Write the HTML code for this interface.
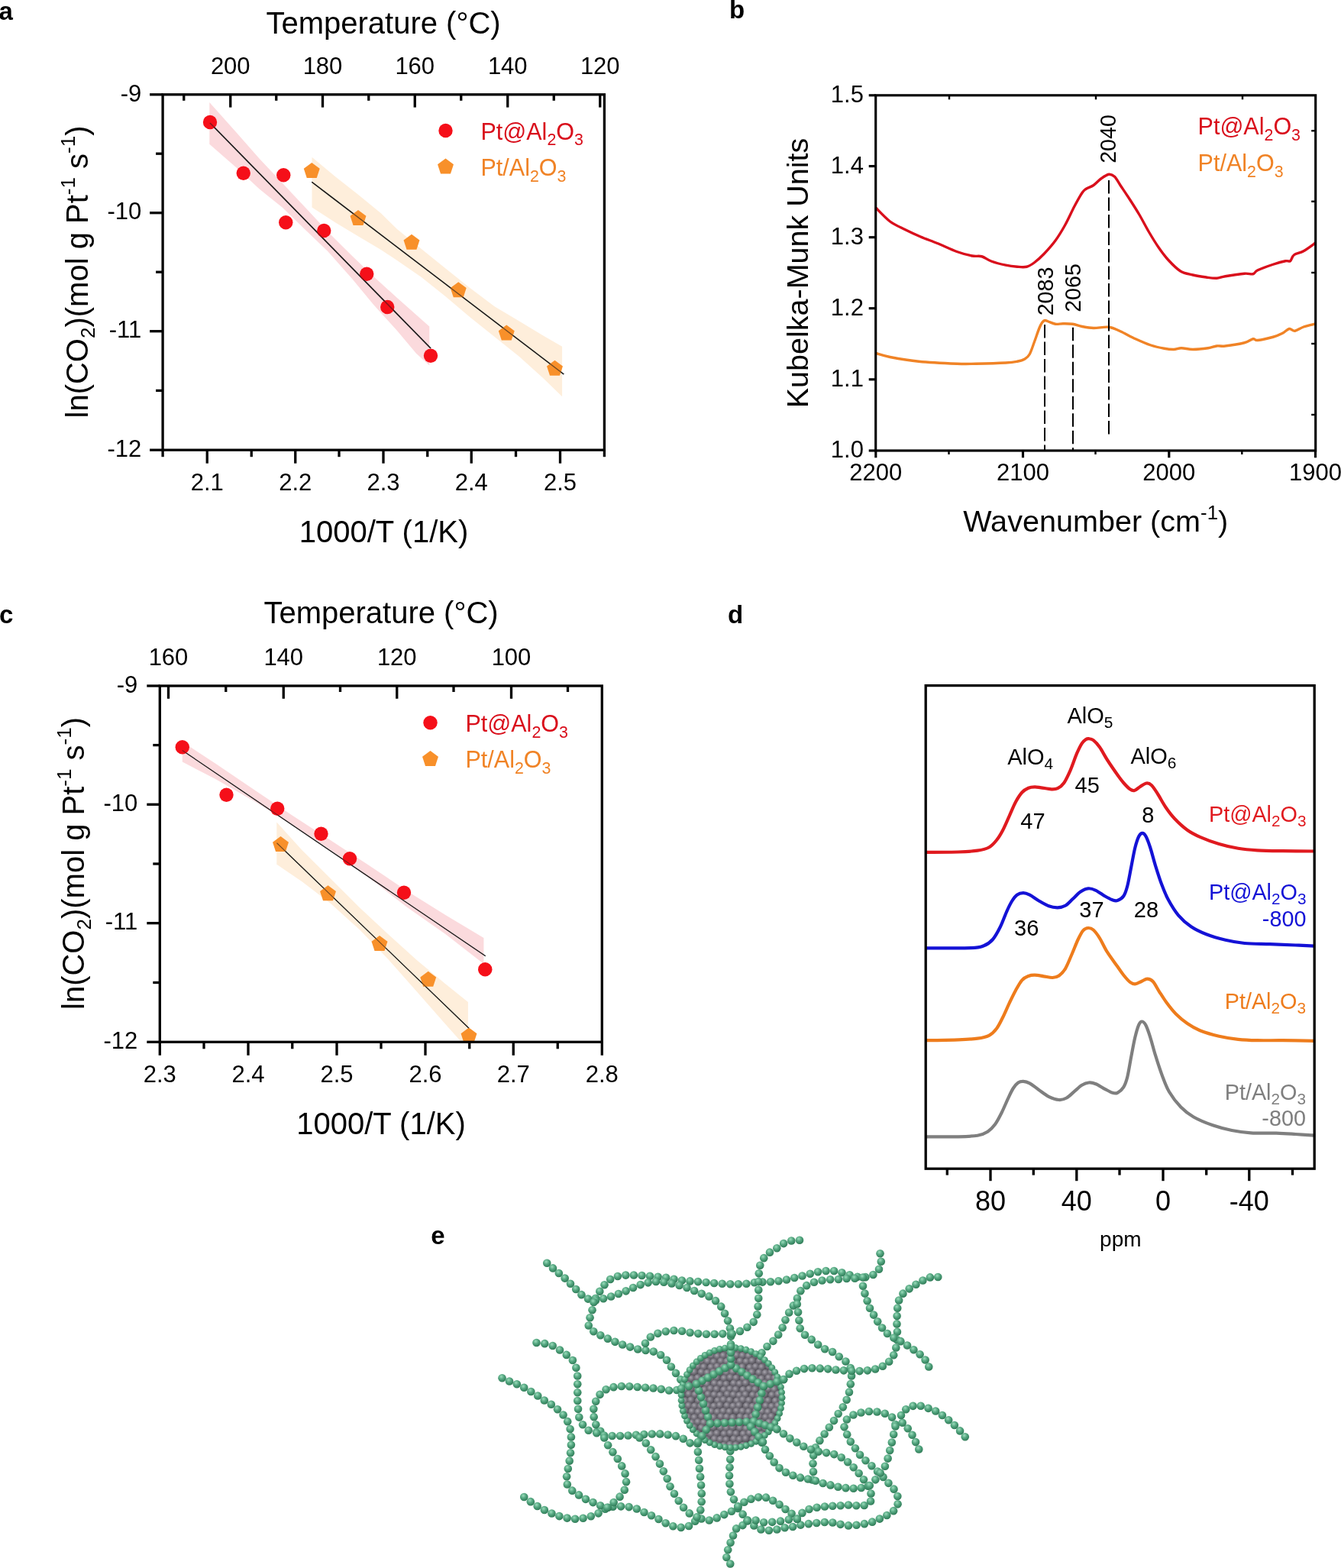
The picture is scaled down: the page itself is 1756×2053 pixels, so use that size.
<!DOCTYPE html>
<html lang="en">
<head>
<meta charset="utf-8">
<title>Figure</title>
<style>
html,body{margin:0;padding:0;background:#fff;}
body{width:1756px;height:2053px;overflow:hidden;}
svg{display:block;font-family:"Liberation Sans", sans-serif;}
text{white-space:pre;}
</style>
</head>
<body>
<svg xmlns="http://www.w3.org/2000/svg" width="1756" height="2053" viewBox="0 0 1756 2053">
<rect width="1756" height="2053" fill="#fff"/>
<polygon points="408.5,205.7 439.4,231.6 469.3,255 499.2,279.5 520,300 551.9,326 583.8,351.8 615.7,377.3 647.6,401.2 679.5,420.3 711.4,439.5 736.1,453.8 736.1,519.2 711.4,495.3 679.5,466.6 647.6,441.1 615.7,415.5 583.8,388.4 551.9,362.9 520,341 499.2,327.3 469.3,309.4 439.4,291.4 408.5,271.5" fill="#feeedb"/>
<polygon points="274.3,134 309.8,173.8 339.7,207.7 369.6,239.6 401.5,273.5 429.4,303.4 461.3,335.3 489.2,362 520,390 562.3,427.5 562.3,478.5 545,462.8 520,433 489.2,399 461.3,365.2 429.4,329.3 401.5,302.4 369.6,271.5 339.7,247.6 309.8,219.7 274.3,188.8" fill="#fbdadd"/>
<line x1="275" y1="161" x2="564" y2="456" stroke="#1a1a1a" stroke-width="1.5" />
<line x1="408.25" y1="238.25" x2="738.25" y2="490" stroke="#1a1a1a" stroke-width="1.5" />
<polygon points="408.25,213.05 418.71,220.65 414.72,232.95 401.78,232.95 397.79,220.65" fill="#f8902a"/>
<polygon points="469,275.05 479.46,282.65 475.47,294.95 462.53,294.95 458.54,282.65" fill="#f8902a"/>
<polygon points="539,306.8 549.46,314.4 545.47,326.7 532.53,326.7 528.54,314.4" fill="#f8902a"/>
<polygon points="600.25,369.3 610.71,376.9 606.72,389.2 593.78,389.2 589.79,376.9" fill="#f8902a"/>
<polygon points="663.25,425.55 673.71,433.15 669.72,445.45 656.78,445.45 652.79,433.15" fill="#f8902a"/>
<polygon points="726.5,471.8 736.96,479.4 732.97,491.7 720.03,491.7 716.04,479.4" fill="#f8902a"/>
<circle cx="275" cy="160" r="9.2" fill="#f50f19"/>
<circle cx="318.75" cy="226.75" r="9.2" fill="#f50f19"/>
<circle cx="371.25" cy="229.25" r="9.2" fill="#f50f19"/>
<circle cx="374.25" cy="291.25" r="9.2" fill="#f50f19"/>
<circle cx="424.25" cy="302" r="9.2" fill="#f50f19"/>
<circle cx="480.25" cy="358.75" r="9.2" fill="#f50f19"/>
<circle cx="507.25" cy="402" r="9.2" fill="#f50f19"/>
<circle cx="564" cy="465.75" r="9.2" fill="#f50f19"/>
<line x1="275" y1="161" x2="564" y2="456" stroke="#1a1a1a" stroke-width="1.5" stroke-opacity="0.5"/>
<line x1="408.25" y1="238.25" x2="738.25" y2="490" stroke="#1a1a1a" stroke-width="1.5" stroke-opacity="0.6"/>
<rect x="213.1" y="123.8" width="578.3" height="465.4" fill="none" stroke="#000" stroke-width="3.3"/>
<line x1="196.1" y1="123.8" x2="213.1" y2="123.8" stroke="#000" stroke-width="3.3" />
<text x="185.3" y="132.5" font-size="31" text-anchor="end" fill="#000" font-weight="normal" >-9</text>
<line x1="196.1" y1="278.7" x2="213.1" y2="278.7" stroke="#000" stroke-width="3.3" />
<text x="185.3" y="287.4" font-size="31" text-anchor="end" fill="#000" font-weight="normal" >-10</text>
<line x1="196.1" y1="433.7" x2="213.1" y2="433.7" stroke="#000" stroke-width="3.3" />
<text x="185.3" y="442.4" font-size="31" text-anchor="end" fill="#000" font-weight="normal" >-11</text>
<line x1="196.1" y1="589.2" x2="213.1" y2="589.2" stroke="#000" stroke-width="3.3" />
<text x="185.3" y="597.9" font-size="31" text-anchor="end" fill="#000" font-weight="normal" >-12</text>
<line x1="204.1" y1="201.2" x2="213.1" y2="201.2" stroke="#000" stroke-width="3.3" />
<line x1="204.1" y1="356.2" x2="213.1" y2="356.2" stroke="#000" stroke-width="3.3" />
<line x1="204.1" y1="511.4" x2="213.1" y2="511.4" stroke="#000" stroke-width="3.3" />
<line x1="301.75" y1="123.8" x2="301.75" y2="140.6" stroke="#000" stroke-width="3.3" />
<text x="301.75" y="97.2" font-size="31" text-anchor="middle" fill="#000" font-weight="normal" >200</text>
<line x1="422.5" y1="123.8" x2="422.5" y2="140.6" stroke="#000" stroke-width="3.3" />
<text x="422.5" y="97.2" font-size="31" text-anchor="middle" fill="#000" font-weight="normal" >180</text>
<line x1="543.25" y1="123.8" x2="543.25" y2="140.6" stroke="#000" stroke-width="3.3" />
<text x="543.25" y="97.2" font-size="31" text-anchor="middle" fill="#000" font-weight="normal" >160</text>
<line x1="664.75" y1="123.8" x2="664.75" y2="140.6" stroke="#000" stroke-width="3.3" />
<text x="664.75" y="97.2" font-size="31" text-anchor="middle" fill="#000" font-weight="normal" >140</text>
<line x1="785.75" y1="123.8" x2="785.75" y2="140.6" stroke="#000" stroke-width="3.3" />
<text x="785.75" y="97.2" font-size="31" text-anchor="middle" fill="#000" font-weight="normal" >120</text>
<line x1="240.75" y1="123.8" x2="240.75" y2="131.8" stroke="#000" stroke-width="3.3" />
<line x1="361.75" y1="123.8" x2="361.75" y2="131.8" stroke="#000" stroke-width="3.3" />
<line x1="482.75" y1="123.8" x2="482.75" y2="131.8" stroke="#000" stroke-width="3.3" />
<line x1="603.75" y1="123.8" x2="603.75" y2="131.8" stroke="#000" stroke-width="3.3" />
<line x1="725.25" y1="123.8" x2="725.25" y2="131.8" stroke="#000" stroke-width="3.3" />
<line x1="271.25" y1="589.2" x2="271.25" y2="606.7" stroke="#000" stroke-width="3.3" />
<text x="271.25" y="642" font-size="31" text-anchor="middle" fill="#000" font-weight="normal" >2.1</text>
<line x1="386.75" y1="589.2" x2="386.75" y2="606.7" stroke="#000" stroke-width="3.3" />
<text x="386.75" y="642" font-size="31" text-anchor="middle" fill="#000" font-weight="normal" >2.2</text>
<line x1="502" y1="589.2" x2="502" y2="606.7" stroke="#000" stroke-width="3.3" />
<text x="502" y="642" font-size="31" text-anchor="middle" fill="#000" font-weight="normal" >2.3</text>
<line x1="617.25" y1="589.2" x2="617.25" y2="606.7" stroke="#000" stroke-width="3.3" />
<text x="617.25" y="642" font-size="31" text-anchor="middle" fill="#000" font-weight="normal" >2.4</text>
<line x1="733.5" y1="589.2" x2="733.5" y2="606.7" stroke="#000" stroke-width="3.3" />
<text x="733.5" y="642" font-size="31" text-anchor="middle" fill="#000" font-weight="normal" >2.5</text>
<line x1="213.1" y1="589.2" x2="213.1" y2="598.2" stroke="#000" stroke-width="3.3" />
<line x1="329.25" y1="589.2" x2="329.25" y2="598.2" stroke="#000" stroke-width="3.3" />
<line x1="444" y1="589.2" x2="444" y2="598.2" stroke="#000" stroke-width="3.3" />
<line x1="559.75" y1="589.2" x2="559.75" y2="598.2" stroke="#000" stroke-width="3.3" />
<line x1="675.5" y1="589.2" x2="675.5" y2="598.2" stroke="#000" stroke-width="3.3" />
<line x1="791.4" y1="589.2" x2="791.4" y2="598.2" stroke="#000" stroke-width="3.3" />
<circle cx="583.5" cy="171" r="9.2" fill="#f50f19"/>
<polygon points="583.5,207.55 593.96,215.15 589.97,227.45 577.03,227.45 573.04,215.15" fill="#f8902a"/>
<text x="629.5" y="182.9" font-size="30.5" text-anchor="start" fill="#d90f1c" font-weight="normal" ><tspan font-size="30.5" dy="0">Pt@Al</tspan><tspan font-size="21.35" dy="7.53">2</tspan><tspan font-size="30.5" dy="-7.53">O</tspan><tspan font-size="21.35" dy="7.53">3</tspan></text>
<text x="629.5" y="230" font-size="30.5" text-anchor="start" fill="#f08326" font-weight="normal" ><tspan font-size="30.5" dy="0">Pt/Al</tspan><tspan font-size="21.35" dy="7.53">2</tspan><tspan font-size="30.5" dy="-7.53">O</tspan><tspan font-size="21.35" dy="7.53">3</tspan></text>
<text x="502" y="44" font-size="40" text-anchor="middle" fill="#000" font-weight="normal" >Temperature (°C)</text>
<text x="502.5" y="710" font-size="40" text-anchor="middle" fill="#000" font-weight="normal" >1000/T (1/K)</text>
<text x="115" y="356" font-size="40" text-anchor="middle" fill="#000" font-weight="normal" transform="rotate(-90 115 356)" ><tspan font-size="40" dy="0">ln(CO</tspan><tspan font-size="26" dy="8.8">2</tspan><tspan font-size="40" dy="-8.8">)(mol g Pt</tspan><tspan font-size="26" dy="-16.8">-1</tspan><tspan font-size="40" dy="16.8"> s</tspan><tspan font-size="26" dy="-16.8">-1</tspan><tspan font-size="40" dy="16.8">)</tspan></text>
<polygon points="362.3,1076.5 395.4,1112.9 433,1150.5 470.6,1188 508.1,1223.1 545.7,1257 583.3,1288.3 612.9,1312.1 612.9,1363.5 603.4,1363.5 583.3,1340.9 545.7,1298.3 508.1,1255.7 470.6,1216.9 433,1183 395.4,1154.2 362.3,1131.7" fill="#feeedb"/>
<polygon points="238.8,971.3 282.6,1000.1 332.8,1033.9 382.9,1067.8 433,1100.3 483.1,1132.9 533.2,1166.7 583.3,1198 633.4,1228.1 633.4,1262 583.3,1223.1 533.2,1188 483.1,1149.2 433,1112.9 382.9,1080.3 332.8,1049 282.6,1020.2 238.8,997.6" fill="#fbdadd"/>
<line x1="238.75" y1="982.5" x2="635.75" y2="1251.75" stroke="#1a1a1a" stroke-width="1.1" />
<line x1="362.5" y1="1103.75" x2="614" y2="1346.25" stroke="#1a1a1a" stroke-width="1.1" />
<polygon points="367.5,1095.05 377.96,1102.65 373.97,1114.95 361.03,1114.95 357.04,1102.65" fill="#f8902a"/>
<polygon points="429.5,1159.3 439.96,1166.9 435.97,1179.2 423.03,1179.2 419.04,1166.9" fill="#f8902a"/>
<polygon points="497,1225.05 507.46,1232.65 503.47,1244.95 490.53,1244.95 486.54,1232.65" fill="#f8902a"/>
<polygon points="560.75,1271.8 571.21,1279.4 567.22,1291.7 554.28,1291.7 550.29,1279.4" fill="#f8902a"/>
<polygon points="614,1345.55 624.46,1353.15 620.47,1365.45 607.53,1365.45 603.54,1353.15" fill="#f8902a"/>
<circle cx="238.75" cy="978.25" r="9.2" fill="#f50f19"/>
<circle cx="296.5" cy="1040.75" r="9.2" fill="#f50f19"/>
<circle cx="363.25" cy="1058.75" r="9.2" fill="#f50f19"/>
<circle cx="420.5" cy="1091.75" r="9.2" fill="#f50f19"/>
<circle cx="458" cy="1124.25" r="9.2" fill="#f50f19"/>
<circle cx="529" cy="1168.75" r="9.2" fill="#f50f19"/>
<circle cx="635.25" cy="1269.25" r="9.2" fill="#f50f19"/>
<line x1="238.75" y1="982.5" x2="635.75" y2="1251.75" stroke="#1a1a1a" stroke-width="1.1" stroke-opacity="0.5"/>
<line x1="362.5" y1="1103.75" x2="614" y2="1346.25" stroke="#1a1a1a" stroke-width="1.1" stroke-opacity="0.6"/>
<rect x="209.3" y="898" width="579" height="466.3" fill="none" stroke="#000" stroke-width="3.3"/>
<line x1="192.3" y1="898" x2="209.3" y2="898" stroke="#000" stroke-width="3.3" />
<text x="180.3" y="906.7" font-size="31" text-anchor="end" fill="#000" font-weight="normal" >-9</text>
<line x1="192.3" y1="1053.3" x2="209.3" y2="1053.3" stroke="#000" stroke-width="3.3" />
<text x="180.3" y="1062" font-size="31" text-anchor="end" fill="#000" font-weight="normal" >-10</text>
<line x1="192.3" y1="1208.7" x2="209.3" y2="1208.7" stroke="#000" stroke-width="3.3" />
<text x="180.3" y="1217.4" font-size="31" text-anchor="end" fill="#000" font-weight="normal" >-11</text>
<line x1="192.3" y1="1364.3" x2="209.3" y2="1364.3" stroke="#000" stroke-width="3.3" />
<text x="180.3" y="1373" font-size="31" text-anchor="end" fill="#000" font-weight="normal" >-12</text>
<line x1="200.3" y1="975.6" x2="209.3" y2="975.6" stroke="#000" stroke-width="3.3" />
<line x1="200.3" y1="1131" x2="209.3" y2="1131" stroke="#000" stroke-width="3.3" />
<line x1="200.3" y1="1286.5" x2="209.3" y2="1286.5" stroke="#000" stroke-width="3.3" />
<line x1="220.5" y1="898" x2="220.5" y2="914.8" stroke="#000" stroke-width="3.3" />
<text x="220.5" y="871.4" font-size="31" text-anchor="middle" fill="#000" font-weight="normal" >160</text>
<line x1="371.25" y1="898" x2="371.25" y2="914.8" stroke="#000" stroke-width="3.3" />
<text x="371.25" y="871.4" font-size="31" text-anchor="middle" fill="#000" font-weight="normal" >140</text>
<line x1="519.75" y1="898" x2="519.75" y2="914.8" stroke="#000" stroke-width="3.3" />
<text x="519.75" y="871.4" font-size="31" text-anchor="middle" fill="#000" font-weight="normal" >120</text>
<line x1="669.5" y1="898" x2="669.5" y2="914.8" stroke="#000" stroke-width="3.3" />
<text x="669.5" y="871.4" font-size="31" text-anchor="middle" fill="#000" font-weight="normal" >100</text>
<line x1="295.75" y1="898" x2="295.75" y2="906" stroke="#000" stroke-width="3.3" />
<line x1="445.5" y1="898" x2="445.5" y2="906" stroke="#000" stroke-width="3.3" />
<line x1="594" y1="898" x2="594" y2="906" stroke="#000" stroke-width="3.3" />
<line x1="743.5" y1="898" x2="743.5" y2="906" stroke="#000" stroke-width="3.3" />
<line x1="209.3" y1="1364.3" x2="209.3" y2="1381.8" stroke="#000" stroke-width="3.3" />
<text x="209.3" y="1417" font-size="31" text-anchor="middle" fill="#000" font-weight="normal" >2.3</text>
<line x1="325" y1="1364.3" x2="325" y2="1381.8" stroke="#000" stroke-width="3.3" />
<text x="325" y="1417" font-size="31" text-anchor="middle" fill="#000" font-weight="normal" >2.4</text>
<line x1="441" y1="1364.3" x2="441" y2="1381.8" stroke="#000" stroke-width="3.3" />
<text x="441" y="1417" font-size="31" text-anchor="middle" fill="#000" font-weight="normal" >2.5</text>
<line x1="557" y1="1364.3" x2="557" y2="1381.8" stroke="#000" stroke-width="3.3" />
<text x="557" y="1417" font-size="31" text-anchor="middle" fill="#000" font-weight="normal" >2.6</text>
<line x1="672.25" y1="1364.3" x2="672.25" y2="1381.8" stroke="#000" stroke-width="3.3" />
<text x="672.25" y="1417" font-size="31" text-anchor="middle" fill="#000" font-weight="normal" >2.7</text>
<line x1="788.3" y1="1364.3" x2="788.3" y2="1381.8" stroke="#000" stroke-width="3.3" />
<text x="788.3" y="1417" font-size="31" text-anchor="middle" fill="#000" font-weight="normal" >2.8</text>
<line x1="267" y1="1364.3" x2="267" y2="1373.3" stroke="#000" stroke-width="3.3" />
<line x1="382.75" y1="1364.3" x2="382.75" y2="1373.3" stroke="#000" stroke-width="3.3" />
<line x1="499" y1="1364.3" x2="499" y2="1373.3" stroke="#000" stroke-width="3.3" />
<line x1="614.75" y1="1364.3" x2="614.75" y2="1373.3" stroke="#000" stroke-width="3.3" />
<line x1="730.25" y1="1364.3" x2="730.25" y2="1373.3" stroke="#000" stroke-width="3.3" />
<circle cx="563.5" cy="946.25" r="9.2" fill="#f50f19"/>
<polygon points="563.5,983.05 573.96,990.65 569.97,1002.95 557.03,1002.95 553.04,990.65" fill="#f8902a"/>
<text x="609.5" y="958.3" font-size="30.5" text-anchor="start" fill="#d90f1c" font-weight="normal" ><tspan font-size="30.5" dy="0">Pt@Al</tspan><tspan font-size="21.35" dy="7.53">2</tspan><tspan font-size="30.5" dy="-7.53">O</tspan><tspan font-size="21.35" dy="7.53">3</tspan></text>
<text x="609.5" y="1005.4" font-size="30.5" text-anchor="start" fill="#f08326" font-weight="normal" ><tspan font-size="30.5" dy="0">Pt/Al</tspan><tspan font-size="21.35" dy="7.53">2</tspan><tspan font-size="30.5" dy="-7.53">O</tspan><tspan font-size="21.35" dy="7.53">3</tspan></text>
<text x="499" y="816.3" font-size="40" text-anchor="middle" fill="#000" font-weight="normal" >Temperature (°C)</text>
<text x="499" y="1485" font-size="40" text-anchor="middle" fill="#000" font-weight="normal" >1000/T (1/K)</text>
<text x="110" y="1130.5" font-size="40" text-anchor="middle" fill="#000" font-weight="normal" transform="rotate(-90 110 1130.5)" ><tspan font-size="40" dy="0">ln(CO</tspan><tspan font-size="26" dy="8.8">2</tspan><tspan font-size="40" dy="-8.8">)(mol g Pt</tspan><tspan font-size="26" dy="-16.8">-1</tspan><tspan font-size="40" dy="16.8"> s</tspan><tspan font-size="26" dy="-16.8">-1</tspan><tspan font-size="40" dy="16.8">)</tspan></text>
<path d="M1146.75 272C1149.88 275 1159.04 285.21 1165.5 290C1171.96 294.79 1178.83 297.42 1185.5 300.75C1192.17 304.08 1198.42 307 1205.5 310C1212.58 313 1220.08 315.5 1228 318.75C1235.92 322 1245.5 326.79 1253 329.5C1260.5 332.21 1267.58 333.96 1273 335C1278.42 336.04 1281.33 334.58 1285.5 335.75C1289.67 336.92 1292.75 340.09 1298 342C1303.25 343.91 1311.33 345.99 1317 347.2C1322.67 348.41 1327.42 348.91 1332 349.25C1336.58 349.59 1340.75 350.17 1344.5 349.25C1348.25 348.33 1350.75 346.54 1354.5 343.75C1358.25 340.96 1362.42 337.29 1367 332.5C1371.58 327.71 1377.42 321.25 1382 315C1386.58 308.75 1390.33 302.5 1394.5 295C1398.67 287.5 1403.25 277.08 1407 270C1410.75 262.92 1414.5 256.25 1417 252.5C1419.5 248.75 1419.5 249.17 1422 247.5C1424.5 245.83 1428.67 244.79 1432 242.5C1435.33 240.21 1438.67 236.12 1442 233.75C1445.33 231.38 1449.08 228.67 1452 228.25C1454.92 227.83 1457 228.88 1459.5 231.25C1462 233.62 1463.67 237.5 1467 242.5C1470.33 247.5 1475.33 254.79 1479.5 261.25C1483.67 267.71 1487.83 274.17 1492 281.25C1496.17 288.33 1500.33 296.67 1504.5 303.75C1508.67 310.83 1512.83 317.71 1517 323.75C1521.17 329.79 1524.71 334.79 1529.5 340C1534.29 345.21 1540.33 351.67 1545.75 355C1551.17 358.33 1556.38 358.67 1562 360C1567.62 361.33 1574.29 362.29 1579.5 363C1584.71 363.71 1589.08 364.46 1593.25 364.25C1597.42 364.04 1598.46 362.75 1604.5 361.75C1610.54 360.75 1623.46 358.75 1629.5 358.25C1635.54 357.75 1637.83 359.5 1640.75 358.75C1643.67 358 1642.62 355.83 1647 353.75C1651.38 351.67 1660.96 348.25 1667 346.25C1673.04 344.25 1679.5 342.5 1683.25 341.75C1687 341 1687.62 343.08 1689.5 341.75C1691.38 340.42 1691.58 335.92 1694.5 333.75C1697.42 331.58 1702.21 331.46 1707 328.75C1711.79 326.04 1720.54 319.38 1723.25 317.5" fill="none" stroke="#d90f1c" stroke-width="3.4" stroke-linejoin="round"/>
<path d="M1146.75 462.5C1149.88 463.33 1156.12 465.71 1165.5 467.5C1174.88 469.29 1188.42 471.79 1203 473.25C1217.58 474.71 1240.5 475.75 1253 476.25C1265.5 476.75 1267.33 476.46 1278 476.25C1288.67 476.04 1308 475.5 1317 475C1326 474.5 1327.83 474.08 1332 473.25C1336.17 472.42 1339.29 471.58 1342 470C1344.71 468.42 1346.17 467.5 1348.25 463.75C1350.33 460 1352.42 453.12 1354.5 447.5C1356.58 441.88 1359.08 434.17 1360.75 430C1362.42 425.83 1363.25 424.25 1364.5 422.5C1365.75 420.75 1366.79 419.71 1368.25 419.5C1369.71 419.29 1370.96 420.46 1373.25 421.25C1375.54 422.04 1378.88 423.83 1382 424.25C1385.12 424.67 1388.25 423.75 1392 423.75C1395.75 423.75 1400.33 423.62 1404.5 424.25C1408.67 424.88 1412.42 426.62 1417 427.5C1421.58 428.38 1426.17 429.38 1432 429.5C1437.83 429.62 1446.17 427.54 1452 428.25C1457.83 428.96 1461.17 431.17 1467 433.75C1472.83 436.33 1480.33 440.71 1487 443.75C1493.67 446.79 1500.75 449.92 1507 452C1513.25 454.08 1519.5 455.33 1524.5 456.25C1529.5 457.17 1533.25 457.58 1537 457.5C1540.75 457.42 1542.83 455.75 1547 455.75C1551.17 455.75 1556.17 457.5 1562 457.5C1567.83 457.5 1576.79 456.5 1582 455.75C1587.21 455 1589.5 453.46 1593.25 453C1597 452.54 1598.46 453.71 1604.5 453C1610.54 452.29 1623.46 450.29 1629.5 448.75C1635.54 447.21 1637.83 444.29 1640.75 443.75C1643.67 443.21 1642.62 445.92 1647 445.5C1651.38 445.08 1661.58 442.79 1667 441.25C1672.42 439.71 1675.96 438.04 1679.5 436.25C1683.04 434.46 1685.54 431 1688.25 430.5C1690.96 430 1692.62 433.67 1695.75 433.25C1698.88 432.83 1702.42 429.58 1707 428C1711.58 426.42 1720.54 424.46 1723.25 423.75" fill="none" stroke="#f08326" stroke-width="3.4" stroke-linejoin="round"/>
<line x1="1452" y1="236" x2="1452" y2="573" stroke="#000" stroke-width="2" stroke-dasharray="17.5 5"/>
<line x1="1368" y1="425" x2="1368" y2="589" stroke="#000" stroke-width="2" stroke-dasharray="17.5 5"/>
<line x1="1405" y1="428.8" x2="1405" y2="589" stroke="#000" stroke-width="2" stroke-dasharray="17.5 5"/>
<rect x="1146.7" y="124.8" width="576" height="465.2" fill="none" stroke="#000" stroke-width="3.15"/>
<line x1="1137.7" y1="124.8" x2="1146.7" y2="124.8" stroke="#000" stroke-width="3.15" />
<text x="1130.9" y="133.8" font-size="31" text-anchor="end" fill="#000" font-weight="normal" >1.5</text>
<line x1="1137.7" y1="217.6" x2="1146.7" y2="217.6" stroke="#000" stroke-width="3.15" />
<text x="1130.9" y="226.6" font-size="31" text-anchor="end" fill="#000" font-weight="normal" >1.4</text>
<line x1="1137.7" y1="310.7" x2="1146.7" y2="310.7" stroke="#000" stroke-width="3.15" />
<text x="1130.9" y="319.7" font-size="31" text-anchor="end" fill="#000" font-weight="normal" >1.3</text>
<line x1="1137.7" y1="403.7" x2="1146.7" y2="403.7" stroke="#000" stroke-width="3.15" />
<text x="1130.9" y="412.7" font-size="31" text-anchor="end" fill="#000" font-weight="normal" >1.2</text>
<line x1="1137.7" y1="496.8" x2="1146.7" y2="496.8" stroke="#000" stroke-width="3.15" />
<text x="1130.9" y="505.8" font-size="31" text-anchor="end" fill="#000" font-weight="normal" >1.1</text>
<line x1="1137.7" y1="590" x2="1146.7" y2="590" stroke="#000" stroke-width="3.15" />
<text x="1130.9" y="599" font-size="31" text-anchor="end" fill="#000" font-weight="normal" >1.0</text>
<line x1="1717.2" y1="171.25" x2="1722.7" y2="171.25" stroke="#000" stroke-width="2.4" />
<line x1="1717.2" y1="263.75" x2="1722.7" y2="263.75" stroke="#000" stroke-width="2.4" />
<line x1="1717.2" y1="357" x2="1722.7" y2="357" stroke="#000" stroke-width="2.4" />
<line x1="1717.2" y1="450" x2="1722.7" y2="450" stroke="#000" stroke-width="2.4" />
<line x1="1717.2" y1="543" x2="1722.7" y2="543" stroke="#000" stroke-width="2.4" />
<line x1="1243" y1="124.8" x2="1243" y2="130.3" stroke="#000" stroke-width="2.4" />
<line x1="1435" y1="124.8" x2="1435" y2="130.3" stroke="#000" stroke-width="2.4" />
<line x1="1627" y1="124.8" x2="1627" y2="130.3" stroke="#000" stroke-width="2.4" />
<line x1="1146.8" y1="590" x2="1146.8" y2="599.3" stroke="#000" stroke-width="3.15" />
<text x="1146.8" y="629.3" font-size="31" text-anchor="middle" fill="#000" font-weight="normal" >2200</text>
<line x1="1339.5" y1="590" x2="1339.5" y2="599.3" stroke="#000" stroke-width="3.15" />
<text x="1339.5" y="629.3" font-size="31" text-anchor="middle" fill="#000" font-weight="normal" >2100</text>
<line x1="1530.8" y1="590" x2="1530.8" y2="599.3" stroke="#000" stroke-width="3.15" />
<text x="1530.8" y="629.3" font-size="31" text-anchor="middle" fill="#000" font-weight="normal" >2000</text>
<line x1="1722.5" y1="590" x2="1722.5" y2="599.3" stroke="#000" stroke-width="3.15" />
<text x="1722.5" y="629.3" font-size="31" text-anchor="middle" fill="#000" font-weight="normal" >1900</text>
<line x1="1242.5" y1="590" x2="1242.5" y2="595" stroke="#000" stroke-width="2.4" />
<line x1="1434.5" y1="590" x2="1434.5" y2="595" stroke="#000" stroke-width="2.4" />
<line x1="1626.3" y1="590" x2="1626.3" y2="595" stroke="#000" stroke-width="2.4" />
<text x="1568.6" y="176.4" font-size="30.5" text-anchor="start" fill="#d90f1c" font-weight="normal" ><tspan font-size="30.5" dy="0">Pt@Al</tspan><tspan font-size="21.35" dy="7.53">2</tspan><tspan font-size="30.5" dy="-7.53">O</tspan><tspan font-size="21.35" dy="7.53">3</tspan></text>
<text x="1568.6" y="224" font-size="30.5" text-anchor="start" fill="#f08326" font-weight="normal" ><tspan font-size="30.5" dy="0">Pt/Al</tspan><tspan font-size="21.35" dy="7.53">2</tspan><tspan font-size="30.5" dy="-7.53">O</tspan><tspan font-size="21.35" dy="7.53">3</tspan></text>
<text x="1461.3" y="182" font-size="28.6" text-anchor="middle" fill="#000" font-weight="normal" transform="rotate(-90 1461.3 182)" >2040</text>
<text x="1378.8" y="381.5" font-size="28.6" text-anchor="middle" fill="#000" font-weight="normal" transform="rotate(-90 1378.8 381.5)" >2083</text>
<text x="1415.3" y="377" font-size="28.6" text-anchor="middle" fill="#000" font-weight="normal" transform="rotate(-90 1415.3 377)" >2065</text>
<text x="1434.7" y="696.3" font-size="39.6" text-anchor="middle" fill="#000" font-weight="normal" ><tspan font-size="39.6" dy="0">Wavenumber (cm</tspan><tspan font-size="25.74" dy="-16.63">-1</tspan><tspan font-size="39.6" dy="16.63">)</tspan></text>
<text x="1058" y="357.5" font-size="39.5" text-anchor="middle" fill="#000" font-weight="normal" transform="rotate(-90 1058 357.5)" >Kubelka-Munk Units</text>
<path d="M1212.5 1115.8C1219.58 1115.75 1243.75 1115.85 1255 1115.5C1266.25 1115.15 1273.33 1114.7 1280 1113.7C1286.67 1112.7 1290.83 1111.78 1295 1109.5C1299.17 1107.22 1301.95 1103.8 1305 1100C1308.05 1096.2 1310.52 1091.98 1313.3 1086.7C1316.08 1081.42 1318.92 1074.42 1321.7 1068.3C1324.48 1062.18 1327.23 1055.13 1330 1050C1332.77 1044.87 1335.52 1040.55 1338.3 1037.5C1341.08 1034.45 1343.92 1032.9 1346.7 1031.7C1349.48 1030.5 1352.23 1030.37 1355 1030.3C1357.77 1030.23 1359.68 1030.8 1363.3 1031.3C1366.92 1031.8 1373.08 1033.15 1376.7 1033.3C1380.32 1033.45 1382.23 1033.58 1385 1032.2C1387.77 1030.82 1390.52 1028.98 1393.3 1025C1396.08 1021.02 1398.92 1014.68 1401.7 1008.3C1404.48 1001.92 1407.5 992.53 1410 986.7C1412.5 980.87 1414.75 976.37 1416.7 973.3C1418.65 970.23 1420.18 969.32 1421.7 968.3C1423.22 967.28 1424.13 967.05 1425.8 967.2C1427.47 967.35 1429.33 967.35 1431.7 969.2C1434.07 971.05 1436.95 974 1440 978.3C1443.05 982.6 1446.12 988.97 1450 995C1453.88 1001.03 1459.75 1009.5 1463.3 1014.5C1466.85 1019.5 1468.57 1021.87 1471.3 1025C1474.03 1028.13 1477.33 1031.63 1479.7 1033.3C1482.07 1034.97 1483.28 1035.55 1485.5 1035C1487.72 1034.45 1490.37 1031.58 1493 1030C1495.63 1028.42 1498.8 1025.78 1501.3 1025.5C1503.8 1025.22 1505.5 1025.88 1508 1028.3C1510.5 1030.72 1513.25 1035.27 1516.3 1040C1519.35 1044.73 1522.68 1051.42 1526.3 1056.7C1529.92 1061.98 1533.27 1066.7 1538 1071.7C1542.73 1076.7 1549.15 1082.68 1554.7 1086.7C1560.25 1090.72 1564.37 1092.75 1571.3 1095.8C1578.23 1098.85 1587.97 1102.5 1596.3 1105C1604.63 1107.5 1612.97 1109.42 1621.3 1110.8C1629.63 1112.18 1636.57 1112.73 1646.3 1113.3C1656.03 1113.87 1667.25 1114 1679.7 1114.2C1692.15 1114.4 1714.12 1114.45 1721 1114.5" fill="none" stroke="#e01a1f" stroke-width="4.2" stroke-linejoin="round"/>
<path d="M1212.5 1241.3C1222.37 1241.28 1259.07 1241.7 1271.7 1241.2C1284.33 1240.7 1283.58 1240.17 1288.3 1238.3C1293.02 1236.43 1296.38 1234.17 1300 1230C1303.62 1225.83 1306.95 1219.42 1310 1213.3C1313.05 1207.18 1315.8 1198.85 1318.3 1193.3C1320.8 1187.75 1322.77 1183.6 1325 1180C1327.23 1176.4 1329.2 1173.5 1331.7 1171.7C1334.2 1169.9 1337.23 1169.2 1340 1169.2C1342.77 1169.2 1344.97 1170.03 1348.3 1171.7C1351.63 1173.37 1355.83 1176.77 1360 1179.2C1364.17 1181.63 1369.13 1184.78 1373.3 1186.3C1377.47 1187.82 1381.38 1188.38 1385 1188.3C1388.62 1188.22 1391.67 1187.73 1395 1185.8C1398.33 1183.87 1401.67 1179.75 1405 1176.7C1408.33 1173.65 1411.67 1169.73 1415 1167.5C1418.33 1165.27 1421.67 1163.58 1425 1163.3C1428.33 1163.02 1431.38 1164.13 1435 1165.8C1438.62 1167.47 1443.08 1171.22 1446.7 1173.3C1450.32 1175.38 1453.93 1177.35 1456.7 1178.3C1459.47 1179.25 1460.87 1179.83 1463.3 1179C1465.73 1178.17 1469.13 1176.47 1471.3 1173.3C1473.47 1170.13 1474.63 1166.38 1476.3 1160C1477.97 1153.62 1479.63 1143.33 1481.3 1135C1482.97 1126.67 1484.63 1116.67 1486.3 1110C1487.97 1103.33 1489.68 1098.2 1491.3 1095C1492.92 1091.8 1494.47 1090.8 1496 1090.8C1497.53 1090.8 1498.78 1091.8 1500.5 1095C1502.22 1098.2 1504.22 1103.62 1506.3 1110C1508.38 1116.38 1510.5 1125.25 1513 1133.3C1515.5 1141.35 1518.47 1150.8 1521.3 1158.3C1524.13 1165.8 1526.38 1171.63 1530 1178.3C1533.62 1184.97 1538.05 1192.47 1543 1198.3C1547.95 1204.13 1553.58 1209.13 1559.7 1213.3C1565.82 1217.47 1572.2 1220.38 1579.7 1223.3C1587.2 1226.22 1596.37 1228.85 1604.7 1230.8C1613.03 1232.75 1619.98 1234.1 1629.7 1235C1639.42 1235.9 1651.9 1235.78 1663 1236.2C1674.1 1236.62 1686.63 1237.08 1696.3 1237.5C1705.97 1237.92 1716.88 1238.5 1721 1238.7" fill="none" stroke="#1412d6" stroke-width="4.2" stroke-linejoin="round"/>
<path d="M1212.5 1362.2C1219.58 1362.05 1243.75 1361.72 1255 1361.3C1266.25 1360.88 1273.33 1360.62 1280 1359.7C1286.67 1358.78 1290.83 1357.97 1295 1355.8C1299.17 1353.63 1301.95 1350.72 1305 1346.7C1308.05 1342.68 1310.52 1337.27 1313.3 1331.7C1316.08 1326.13 1318.92 1319.13 1321.7 1313.3C1324.48 1307.47 1327.23 1301.7 1330 1296.7C1332.77 1291.7 1335.52 1286.42 1338.3 1283.3C1341.08 1280.18 1343.92 1279.1 1346.7 1278C1349.48 1276.9 1351.67 1276.65 1355 1276.7C1358.33 1276.75 1362.82 1277.75 1366.7 1278.3C1370.58 1278.85 1374.97 1280.13 1378.3 1280C1381.63 1279.87 1383.92 1279.45 1386.7 1277.5C1389.48 1275.55 1392.23 1272.88 1395 1268.3C1397.77 1263.72 1400.52 1256.38 1403.3 1250C1406.08 1243.62 1409.2 1235.28 1411.7 1230C1414.2 1224.72 1416.08 1220.8 1418.3 1218.3C1420.52 1215.8 1422.77 1215.13 1425 1215C1427.23 1214.87 1429.2 1215.28 1431.7 1217.5C1434.2 1219.72 1436.95 1223.43 1440 1228.3C1443.05 1233.17 1446.12 1240.5 1450 1246.7C1453.88 1252.9 1459.75 1260.5 1463.3 1265.5C1466.85 1270.5 1468.57 1273.32 1471.3 1276.7C1474.03 1280.08 1477.2 1283.87 1479.7 1285.8C1482.2 1287.73 1483.8 1288.43 1486.3 1288.3C1488.8 1288.17 1492.05 1286.1 1494.7 1285C1497.35 1283.9 1499.7 1281.7 1502.2 1281.7C1504.7 1281.7 1507.07 1282.23 1509.7 1285C1512.33 1287.77 1514.95 1293.58 1518 1298.3C1521.05 1303.02 1524.38 1308.43 1528 1313.3C1531.62 1318.17 1535.25 1323.05 1539.7 1327.5C1544.15 1331.95 1549.43 1336.38 1554.7 1340C1559.97 1343.62 1564.37 1346.42 1571.3 1349.2C1578.23 1351.98 1587.97 1354.77 1596.3 1356.7C1604.63 1358.63 1612.97 1359.88 1621.3 1360.8C1629.63 1361.72 1636.57 1361.97 1646.3 1362.2C1656.03 1362.43 1667.25 1362.1 1679.7 1362.2C1692.15 1362.3 1714.12 1362.7 1721 1362.8" fill="none" stroke="#ee7c1c" stroke-width="4.2" stroke-linejoin="round"/>
<path d="M1212.5 1488.3C1219.58 1488.3 1243.75 1488.57 1255 1488.3C1266.25 1488.03 1273.62 1487.8 1280 1486.7C1286.38 1485.6 1289.42 1484.2 1293.3 1481.7C1297.18 1479.2 1300.23 1475.87 1303.3 1471.7C1306.37 1467.53 1308.92 1462.27 1311.7 1456.7C1314.48 1451.13 1317.5 1443.58 1320 1438.3C1322.5 1433.02 1324.48 1428.47 1326.7 1425C1328.92 1421.53 1331.08 1419.03 1333.3 1417.5C1335.52 1415.97 1337.5 1415.67 1340 1415.8C1342.5 1415.93 1344.97 1416.48 1348.3 1418.3C1351.63 1420.12 1355.83 1423.78 1360 1426.7C1364.17 1429.62 1368.85 1433.58 1373.3 1435.8C1377.75 1438.02 1382.8 1439.72 1386.7 1440C1390.6 1440.28 1393.37 1439.3 1396.7 1437.5C1400.03 1435.7 1403.37 1431.98 1406.7 1429.2C1410.03 1426.42 1413.52 1422.75 1416.7 1420.8C1419.88 1418.85 1422.75 1417.77 1425.8 1417.5C1428.85 1417.23 1431.52 1417.82 1435 1419.2C1438.48 1420.58 1443.08 1423.87 1446.7 1425.8C1450.32 1427.73 1453.93 1429.97 1456.7 1430.8C1459.47 1431.63 1460.87 1432.05 1463.3 1430.8C1465.73 1429.55 1469.13 1426.77 1471.3 1423.3C1473.47 1419.83 1474.63 1416.67 1476.3 1410C1477.97 1403.33 1479.63 1391.92 1481.3 1383.3C1482.97 1374.68 1484.63 1365.23 1486.3 1358.3C1487.97 1351.37 1489.77 1345.17 1491.3 1341.7C1492.83 1338.23 1493.97 1337.37 1495.5 1337.5C1497.03 1337.63 1498.7 1339.03 1500.5 1342.5C1502.3 1345.97 1504.22 1351.77 1506.3 1358.3C1508.38 1364.83 1510.5 1373.63 1513 1381.7C1515.5 1389.77 1518.3 1398.73 1521.3 1406.7C1524.3 1414.67 1526.83 1422.37 1531 1429.5C1535.17 1436.63 1540.97 1444 1546.3 1449.5C1551.63 1455 1556.05 1458.53 1563 1462.5C1569.95 1466.47 1579.67 1470.38 1588 1473.3C1596.33 1476.22 1604.67 1478.33 1613 1480C1621.33 1481.67 1628.28 1482.68 1638 1483.3C1647.72 1483.92 1661.58 1483.42 1671.3 1483.7C1681.02 1483.98 1688.02 1484.5 1696.3 1485C1704.58 1485.5 1716.88 1486.42 1721 1486.7" fill="none" stroke="#7f7f7f" stroke-width="4.2" stroke-linejoin="round"/>
<rect x="1212.2" y="897.6" width="509" height="632.6" fill="none" stroke="#000" stroke-width="3.3"/>
<line x1="1297" y1="1530.2" x2="1297" y2="1546.2" stroke="#000" stroke-width="3.3" />
<text x="1297" y="1585" font-size="36" text-anchor="middle" fill="#000" font-weight="normal" >80</text>
<line x1="1409.8" y1="1530.2" x2="1409.8" y2="1546.2" stroke="#000" stroke-width="3.3" />
<text x="1409.8" y="1585" font-size="36" text-anchor="middle" fill="#000" font-weight="normal" >40</text>
<line x1="1523" y1="1530.2" x2="1523" y2="1546.2" stroke="#000" stroke-width="3.3" />
<text x="1523" y="1585" font-size="36" text-anchor="middle" fill="#000" font-weight="normal" >0</text>
<line x1="1635.8" y1="1530.2" x2="1635.8" y2="1546.2" stroke="#000" stroke-width="3.3" />
<text x="1635.8" y="1585" font-size="36" text-anchor="middle" fill="#000" font-weight="normal" >-40</text>
<line x1="1240.3" y1="1530.2" x2="1240.3" y2="1538.6" stroke="#000" stroke-width="3.3" />
<line x1="1353.3" y1="1530.2" x2="1353.3" y2="1538.6" stroke="#000" stroke-width="3.3" />
<line x1="1466" y1="1530.2" x2="1466" y2="1538.6" stroke="#000" stroke-width="3.3" />
<line x1="1579.7" y1="1530.2" x2="1579.7" y2="1538.6" stroke="#000" stroke-width="3.3" />
<line x1="1692.5" y1="1530.2" x2="1692.5" y2="1538.6" stroke="#000" stroke-width="3.3" />
<text x="1467.3" y="1631.7" font-size="28" text-anchor="middle" fill="#000" font-weight="normal" >ppm</text>
<text x="1319.2" y="1000.8" font-size="29" text-anchor="start" fill="#000" font-weight="normal" ><tspan font-size="29" dy="0">AlO</tspan><tspan font-size="20.88" dy="6.09">4</tspan></text>
<text x="1397.5" y="946.7" font-size="29" text-anchor="start" fill="#000" font-weight="normal" ><tspan font-size="29" dy="0">AlO</tspan><tspan font-size="20.88" dy="6.09">5</tspan></text>
<text x="1480.5" y="999.7" font-size="29" text-anchor="start" fill="#000" font-weight="normal" ><tspan font-size="29" dy="0">AlO</tspan><tspan font-size="20.88" dy="6.09">6</tspan></text>
<text x="1423.7" y="1038" font-size="29" text-anchor="middle" fill="#000" font-weight="normal" >45</text>
<text x="1352.5" y="1085.3" font-size="29" text-anchor="middle" fill="#000" font-weight="normal" >47</text>
<text x="1503.2" y="1076.7" font-size="29" text-anchor="middle" fill="#000" font-weight="normal" >8</text>
<text x="1344.2" y="1225" font-size="29" text-anchor="middle" fill="#000" font-weight="normal" >36</text>
<text x="1429.5" y="1201.3" font-size="29" text-anchor="middle" fill="#000" font-weight="normal" >37</text>
<text x="1501" y="1201.3" font-size="29" text-anchor="middle" fill="#000" font-weight="normal" >28</text>
<text x="1710.5" y="1075.5" font-size="28.8" text-anchor="end" fill="#e01a1f" font-weight="normal" ><tspan font-size="28.8" dy="0">Pt@Al</tspan><tspan font-size="20.74" dy="6.05">2</tspan><tspan font-size="28.8" dy="-6.05">O</tspan><tspan font-size="20.74" dy="6.05">3</tspan></text>
<text x="1710.5" y="1178.3" font-size="28.8" text-anchor="end" fill="#1412d6" font-weight="normal" ><tspan font-size="28.8" dy="0">Pt@Al</tspan><tspan font-size="20.74" dy="6.05">2</tspan><tspan font-size="28.8" dy="-6.05">O</tspan><tspan font-size="20.74" dy="6.05">3</tspan></text>
<text x="1710.5" y="1212.8" font-size="28.8" text-anchor="end" fill="#1412d6" font-weight="normal" >-800</text>
<text x="1710" y="1321.3" font-size="28.8" text-anchor="end" fill="#ee7c1c" font-weight="normal" ><tspan font-size="28.8" dy="0">Pt/Al</tspan><tspan font-size="20.74" dy="6.05">2</tspan><tspan font-size="28.8" dy="-6.05">O</tspan><tspan font-size="20.74" dy="6.05">3</tspan></text>
<text x="1710" y="1439.6" font-size="28.8" text-anchor="end" fill="#7f7f7f" font-weight="normal" ><tspan font-size="28.8" dy="0">Pt/Al</tspan><tspan font-size="20.74" dy="6.05">2</tspan><tspan font-size="28.8" dy="-6.05">O</tspan><tspan font-size="20.74" dy="6.05">3</tspan></text>
<text x="1710" y="1473.5" font-size="28.8" text-anchor="end" fill="#7f7f7f" font-weight="normal" >-800</text>
<defs><radialGradient id="gb" cx="0.4" cy="0.33" r="0.72"><stop offset="0" stop-color="#9bdcbb"/><stop offset="0.45" stop-color="#54a680"/><stop offset="0.85" stop-color="#35835e"/><stop offset="1" stop-color="#27704c"/></radialGradient><radialGradient id="gg" cx="0.38" cy="0.34" r="0.7"><stop offset="0" stop-color="#a9a6ae"/><stop offset="0.4" stop-color="#7a7780"/><stop offset="1" stop-color="#45424a"/></radialGradient><circle id="b" r="5.3" fill="url(#gb)"/><circle id="s" r="5.2" fill="url(#gg)"/><circle id="r" r="4.4" fill="url(#gb)"/><clipPath id="sc"><circle cx="958" cy="1830" r="68"/></clipPath></defs>
<use href="#b" x="716.25" y="1653.75"/>
<use href="#b" x="724.01" y="1660.41"/>
<use href="#b" x="731.82" y="1667"/>
<use href="#b" x="739.66" y="1673.58"/>
<use href="#b" x="746.98" y="1680.7"/>
<use href="#b" x="754.18" y="1687.96"/>
<use href="#b" x="761.43" y="1695.17"/>
<use href="#b" x="770.02" y="1700.59"/>
<use href="#b" x="780" y="1700"/>
<use href="#b" x="780" y="1700"/>
<use href="#b" x="785.32" y="1690.85"/>
<use href="#b" x="791.49" y="1682.27"/>
<use href="#b" x="799.17" y="1675.02"/>
<use href="#b" x="808.85" y="1670.94"/>
<use href="#b" x="819.33" y="1669.59"/>
<use href="#b" x="829.92" y="1669.53"/>
<use href="#b" x="840.49" y="1669.99"/>
<use href="#b" x="851.04" y="1670.8"/>
<use href="#b" x="861.58" y="1671.73"/>
<use href="#b" x="872.11" y="1672.8"/>
<use href="#b" x="882.51" y="1674.76"/>
<use href="#b" x="892.93" y="1676.6"/>
<use href="#b" x="903.48" y="1677.41"/>
<use href="#b" x="914.04" y="1678.12"/>
<use href="#b" x="924.58" y="1679.07"/>
<use href="#b" x="935.12" y="1680.01"/>
<use href="#b" x="945.67" y="1680.79"/>
<use href="#b" x="956.25" y="1681.28"/>
<use href="#b" x="966.83" y="1681.24"/>
<use href="#b" x="977.4" y="1680.76"/>
<use href="#b" x="987.88" y="1679.29"/>
<use href="#b" x="998.43" y="1678.6"/>
<use href="#b" x="1009.01" y="1678.3"/>
<use href="#b" x="1019.54" y="1677.25"/>
<use href="#b" x="1029.98" y="1675.51"/>
<use href="#b" x="1040.27" y="1673.07"/>
<use href="#b" x="1050.54" y="1670.5"/>
<use href="#b" x="1060.76" y="1667.76"/>
<use href="#b" x="1071.05" y="1665.25"/>
<use href="#b" x="1081.53" y="1664.02"/>
<use href="#b" x="1092.12" y="1663.99"/>
<use href="#b" x="1102.42" y="1666.2"/>
<use href="#b" x="1112.55" y="1669.29"/>
<use href="#b" x="1122.82" y="1671.8"/>
<use href="#b" x="1133.34" y="1672.16"/>
<use href="#b" x="1143.38" y="1668.95"/>
<use href="#b" x="1150.96" y="1661.82"/>
<use href="#b" x="1153.77" y="1651.75"/>
<use href="#b" x="1152.5" y="1641.25"/>
<use href="#b" x="780" y="1702.5"/>
<use href="#b" x="790.13" y="1700.25"/>
<use href="#b" x="800.14" y="1697.54"/>
<use href="#b" x="809.9" y="1694"/>
<use href="#b" x="819.62" y="1690.36"/>
<use href="#b" x="829.06" y="1686.06"/>
<use href="#b" x="838.66" y="1682.1"/>
<use href="#b" x="848.66" y="1679.36"/>
<use href="#b" x="858.94" y="1678"/>
<use href="#b" x="869.28" y="1678.72"/>
<use href="#b" x="879.52" y="1680.4"/>
<use href="#b" x="889.59" y="1682.88"/>
<use href="#b" x="899.47" y="1686.06"/>
<use href="#b" x="909.1" y="1689.94"/>
<use href="#b" x="918.7" y="1693.86"/>
<use href="#b" x="928.46" y="1697.42"/>
<use href="#b" x="937.04" y="1703.14"/>
<use href="#b" x="944.2" y="1710.63"/>
<use href="#b" x="949.07" y="1719.78"/>
<use href="#b" x="953.06" y="1729.36"/>
<use href="#b" x="955.92" y="1739.33"/>
<use href="#b" x="957.03" y="1749.62"/>
<use href="#b" x="957" y="1760"/>
<use href="#b" x="777.5" y="1705"/>
<use href="#b" x="775.51" y="1715.25"/>
<use href="#b" x="772.55" y="1725.25"/>
<use href="#b" x="770.75" y="1735.49"/>
<use href="#b" x="777.24" y="1743.19"/>
<use href="#b" x="786.31" y="1748.32"/>
<use href="#b" x="795.81" y="1752.66"/>
<use href="#b" x="805.36" y="1756.86"/>
<use href="#b" x="815.14" y="1760.5"/>
<use href="#b" x="825.11" y="1763.58"/>
<use href="#b" x="835.15" y="1766.44"/>
<use href="#b" x="845.45" y="1768"/>
<use href="#b" x="855.72" y="1769.62"/>
<use href="#b" x="865.15" y="1774.03"/>
<use href="#b" x="873.02" y="1780.8"/>
<use href="#b" x="878.88" y="1789.44"/>
<use href="#b" x="884.98" y="1797.91"/>
<use href="#b" x="891.25" y="1806.25"/>
<use href="#b" x="845" y="1758.75"/>
<use href="#b" x="851.85" y="1750.54"/>
<use href="#b" x="861.4" y="1745.86"/>
<use href="#b" x="871.79" y="1743.32"/>
<use href="#b" x="882.41" y="1742.07"/>
<use href="#b" x="893.08" y="1742.71"/>
<use href="#b" x="903.58" y="1744.76"/>
<use href="#b" x="914.21" y="1746.08"/>
<use href="#b" x="924.89" y="1746.68"/>
<use href="#b" x="935.6" y="1746.8"/>
<use href="#b" x="946.3" y="1746.36"/>
<use href="#b" x="957" y="1746.25"/>
<use href="#b" x="1047" y="1623.75"/>
<use href="#b" x="1036.25" y="1624.5"/>
<use href="#b" x="1026.11" y="1628.08"/>
<use href="#b" x="1017.3" y="1634.3"/>
<use href="#b" x="1007.95" y="1639.67"/>
<use href="#b" x="1000.25" y="1647.16"/>
<use href="#b" x="995.27" y="1656.69"/>
<use href="#b" x="993.76" y="1667.34"/>
<use href="#b" x="993.26" y="1678.11"/>
<use href="#b" x="993.25" y="1688.9"/>
<use href="#b" x="993.26" y="1699.69"/>
<use href="#b" x="992.57" y="1710.46"/>
<use href="#b" x="991.28" y="1721.15"/>
<use href="#b" x="986.72" y="1730.85"/>
<use href="#b" x="978.44" y="1737.72"/>
<use href="#b" x="969.01" y="1742.91"/>
<use href="#b" x="958.75" y="1746.25"/>
<use href="#b" x="997.5" y="1771.25"/>
<use href="#b" x="1004.47" y="1763.06"/>
<use href="#b" x="1012.43" y="1755.83"/>
<use href="#b" x="1019.17" y="1747.49"/>
<use href="#b" x="1024.65" y="1738.24"/>
<use href="#b" x="1028.46" y="1728.19"/>
<use href="#b" x="1033.18" y="1718.53"/>
<use href="#b" x="1038.85" y="1709.4"/>
<use href="#b" x="1043.92" y="1699.92"/>
<use href="#b" x="1048.36" y="1690.13"/>
<use href="#b" x="1056.21" y="1683.16"/>
<use href="#b" x="1066" y="1678.73"/>
<use href="#b" x="1076.51" y="1676.56"/>
<use href="#b" x="1087.18" y="1675.22"/>
<use href="#b" x="1097.92" y="1675.06"/>
<use href="#b" x="1108.61" y="1673.98"/>
<use href="#b" x="1119.36" y="1673.8"/>
<use href="#b" x="1130" y="1672.5"/>
<use href="#b" x="1043.75" y="1707.5"/>
<use href="#b" x="1045.07" y="1718.1"/>
<use href="#b" x="1046.36" y="1728.7"/>
<use href="#b" x="1047.7" y="1739.23"/>
<use href="#b" x="1054.02" y="1747.75"/>
<use href="#b" x="1062.72" y="1753.92"/>
<use href="#b" x="1071.17" y="1760.44"/>
<use href="#b" x="1080.09" y="1766.29"/>
<use href="#b" x="1090.07" y="1770.04"/>
<use href="#b" x="1098.75" y="1776.25"/>
<use href="#b" x="1107.43" y="1782.44"/>
<use href="#b" x="1113.66" y="1791.02"/>
<use href="#b" x="1115" y="1801.55"/>
<use href="#b" x="1113.81" y="1812.15"/>
<use href="#b" x="1111.96" y="1822.66"/>
<use href="#b" x="1108.63" y="1832.79"/>
<use href="#b" x="1103.85" y="1842.34"/>
<use href="#b" x="1097.65" y="1851.03"/>
<use href="#b" x="1092" y="1860.09"/>
<use href="#b" x="1085.85" y="1868.82"/>
<use href="#b" x="1079.64" y="1877.5"/>
<use href="#b" x="1073.38" y="1886.15"/>
<use href="#b" x="1067.94" y="1895.33"/>
<use href="#b" x="1065.23" y="1905.61"/>
<use href="#b" x="1064.5" y="1916.25"/>
<use href="#b" x="1065" y="1926.92"/>
<use href="#b" x="1063.75" y="1937.5"/>
<use href="#b" x="1026.25" y="1806.25"/>
<use href="#b" x="1033.55" y="1798.89"/>
<use href="#b" x="1043.03" y="1794.74"/>
<use href="#b" x="1053.06" y="1792.11"/>
<use href="#b" x="1063.41" y="1791.28"/>
<use href="#b" x="1073.78" y="1791.67"/>
<use href="#b" x="1084.14" y="1792.33"/>
<use href="#b" x="1094.47" y="1793.43"/>
<use href="#b" x="1104.81" y="1794.33"/>
<use href="#b" x="1115.18" y="1794.88"/>
<use href="#b" x="1125.57" y="1795.11"/>
<use href="#b" x="1135.92" y="1794.35"/>
<use href="#b" x="1146.12" y="1792.47"/>
<use href="#b" x="1155.8" y="1788.74"/>
<use href="#b" x="1164.18" y="1782.69"/>
<use href="#b" x="1170.2" y="1774.28"/>
<use href="#b" x="1173.3" y="1764.44"/>
<use href="#b" x="1174.36" y="1754.12"/>
<use href="#b" x="1174.92" y="1743.77"/>
<use href="#b" x="1174.44" y="1733.4"/>
<use href="#b" x="1174.6" y="1723.01"/>
<use href="#b" x="1175.22" y="1712.65"/>
<use href="#b" x="1177.11" y="1702.5"/>
<use href="#b" x="1182.43" y="1693.65"/>
<use href="#b" x="1190.69" y="1687.37"/>
<use href="#b" x="1199.44" y="1681.78"/>
<use href="#b" x="1208.39" y="1676.53"/>
<use href="#b" x="1217.89" y="1672.42"/>
<use href="#b" x="1228.25" y="1672"/>
<use href="#b" x="1130" y="1683.75"/>
<use href="#b" x="1132.46" y="1693.6"/>
<use href="#b" x="1135.63" y="1703.23"/>
<use href="#b" x="1139" y="1712.8"/>
<use href="#b" x="1144.05" y="1721.58"/>
<use href="#b" x="1149.18" y="1730.33"/>
<use href="#b" x="1155.07" y="1738.56"/>
<use href="#b" x="1161.9" y="1746.07"/>
<use href="#b" x="1170.34" y="1751.58"/>
<use href="#b" x="1179.38" y="1756.16"/>
<use href="#b" x="1188.03" y="1761.46"/>
<use href="#b" x="1196.4" y="1767.21"/>
<use href="#b" x="1204.58" y="1773.2"/>
<use href="#b" x="1211.59" y="1780.49"/>
<use href="#b" x="1216.25" y="1789.5"/>
<use href="#b" x="1017.5" y="1871.25"/>
<use href="#b" x="1025.94" y="1877.28"/>
<use href="#b" x="1034.35" y="1883.33"/>
<use href="#b" x="1043.33" y="1888.51"/>
<use href="#b" x="1052.27" y="1893.76"/>
<use href="#b" x="1061.84" y="1897.71"/>
<use href="#b" x="1071.79" y="1900.59"/>
<use href="#b" x="1082.04" y="1902.08"/>
<use href="#b" x="1092.2" y="1904.1"/>
<use href="#b" x="1101.68" y="1908.22"/>
<use href="#b" x="1110.12" y="1914.23"/>
<use href="#b" x="1117.7" y="1921.29"/>
<use href="#b" x="1124.63" y="1928.99"/>
<use href="#b" x="1130.99" y="1937.18"/>
<use href="#b" x="1136.74" y="1945.81"/>
<use href="#b" x="1140.47" y="1955.44"/>
<use href="#b" x="1140.07" y="1965.47"/>
<use href="#b" x="1131.66" y="1970.95"/>
<use href="#b" x="1121.31" y="1971.19"/>
<use href="#b" x="1110.97" y="1970.53"/>
<use href="#b" x="1100.64" y="1971.28"/>
<use href="#b" x="1090.28" y="1971.73"/>
<use href="#b" x="1079.94" y="1972.51"/>
<use href="#b" x="1069.66" y="1973.81"/>
<use href="#b" x="1059.53" y="1975.98"/>
<use href="#b" x="1050.45" y="1980.88"/>
<use href="#b" x="1043.75" y="1988.75"/>
<use href="#b" x="997.5" y="1888.75"/>
<use href="#b" x="1002" y="1897.88"/>
<use href="#b" x="1007.82" y="1906.22"/>
<use href="#b" x="1013.66" y="1914.56"/>
<use href="#b" x="1020.49" y="1922.09"/>
<use href="#b" x="1028.93" y="1927.74"/>
<use href="#b" x="1038.3" y="1931.7"/>
<use href="#b" x="1048.04" y="1934.66"/>
<use href="#b" x="1058.02" y="1936.56"/>
<use href="#b" x="1067.93" y="1938.78"/>
<use href="#b" x="1077.6" y="1941.96"/>
<use href="#b" x="1087.48" y="1944.4"/>
<use href="#b" x="1097.39" y="1946.7"/>
<use href="#b" x="1107.47" y="1948.13"/>
<use href="#b" x="1117.63" y="1948.75"/>
<use href="#b" x="1127.76" y="1947.95"/>
<use href="#b" x="1137.5" y="1945"/>
<use href="#b" x="1172.5" y="1865"/>
<use href="#b" x="1168.06" y="1855.58"/>
<use href="#b" x="1158.74" y="1850.78"/>
<use href="#b" x="1148.45" y="1848.53"/>
<use href="#b" x="1137.93" y="1848.04"/>
<use href="#b" x="1127.5" y="1849.5"/>
<use href="#b" x="1117.43" y="1852.53"/>
<use href="#b" x="1108.9" y="1858.57"/>
<use href="#b" x="1105.5" y="1868.37"/>
<use href="#b" x="1109.21" y="1878.13"/>
<use href="#b" x="1113.82" y="1887.61"/>
<use href="#b" x="1119.95" y="1896.18"/>
<use href="#b" x="1126.06" y="1904.77"/>
<use href="#b" x="1133.44" y="1912.3"/>
<use href="#b" x="1141.41" y="1919.2"/>
<use href="#b" x="1149.02" y="1926.48"/>
<use href="#b" x="1156.51" y="1933.91"/>
<use href="#b" x="1163.43" y="1941.85"/>
<use href="#b" x="1170.5" y="1949.67"/>
<use href="#b" x="1175.31" y="1958.98"/>
<use href="#b" x="1175.6" y="1969.36"/>
<use href="#b" x="1170.08" y="1978.17"/>
<use href="#b" x="1161.32" y="1983.95"/>
<use href="#b" x="1151.85" y="1988.58"/>
<use href="#b" x="1142.14" y="1992.64"/>
<use href="#b" x="1131.91" y="1995.16"/>
<use href="#b" x="1121.49" y="1996.77"/>
<use href="#b" x="1110.99" y="1997.4"/>
<use href="#b" x="1100.57" y="1995.84"/>
<use href="#b" x="1090.31" y="1993.44"/>
<use href="#b" x="1079.79" y="1993.07"/>
<use href="#b" x="1069.28" y="1993.94"/>
<use href="#b" x="1058.8" y="1995.14"/>
<use href="#b" x="1048.37" y="1996.6"/>
<use href="#b" x="1038.12" y="1999.03"/>
<use href="#b" x="1027.64" y="2000.2"/>
<use href="#b" x="1017.36" y="2002.53"/>
<use href="#b" x="1006.91" y="2003.75"/>
<use href="#b" x="996.46" y="2002.56"/>
<use href="#b" x="987.32" y="1997.39"/>
<use href="#b" x="978.75" y="1991.25"/>
<use href="#b" x="1203.25" y="1897.5"/>
<use href="#b" x="1199.03" y="1888.09"/>
<use href="#b" x="1194.51" y="1878.82"/>
<use href="#b" x="1188.72" y="1870.31"/>
<use href="#b" x="1181.7" y="1862.77"/>
<use href="#b" x="1179.98" y="1853.05"/>
<use href="#b" x="1186.25" y="1845.18"/>
<use href="#b" x="1195.56" y="1840.85"/>
<use href="#b" x="1205.72" y="1840.73"/>
<use href="#b" x="1215.54" y="1843.87"/>
<use href="#b" x="1225.15" y="1847.55"/>
<use href="#b" x="1233.89" y="1853.01"/>
<use href="#b" x="1242.12" y="1859.21"/>
<use href="#b" x="1249.85" y="1866.03"/>
<use href="#b" x="1257.06" y="1873.4"/>
<use href="#b" x="1263.75" y="1881.25"/>
<use href="#b" x="1172.5" y="1867.5"/>
<use href="#b" x="1170.15" y="1878.05"/>
<use href="#b" x="1167.82" y="1888.61"/>
<use href="#b" x="1165.22" y="1899.11"/>
<use href="#b" x="1162.62" y="1909.6"/>
<use href="#b" x="1158.89" y="1919.73"/>
<use href="#b" x="1152.65" y="1928.54"/>
<use href="#b" x="1146.38" y="1937.34"/>
<use href="#b" x="1138.75" y="1945"/>
<use href="#b" x="956.25" y="1900"/>
<use href="#b" x="956.22" y="1910.7"/>
<use href="#b" x="955.49" y="1921.37"/>
<use href="#b" x="955" y="1932.06"/>
<use href="#b" x="955.41" y="1942.75"/>
<use href="#b" x="956.89" y="1953.33"/>
<use href="#b" x="960.98" y="1963.2"/>
<use href="#b" x="966.25" y="1972.5"/>
<use href="#b" x="966.25" y="1972.5"/>
<use href="#b" x="974.42" y="1966.79"/>
<use href="#b" x="983.45" y="1962.64"/>
<use href="#b" x="993.15" y="1960.36"/>
<use href="#b" x="1003.01" y="1960.67"/>
<use href="#b" x="1012.08" y="1964.79"/>
<use href="#b" x="1020.62" y="1969.92"/>
<use href="#b" x="1028.48" y="1976.05"/>
<use href="#b" x="1036.62" y="1981.8"/>
<use href="#b" x="1043.75" y="1988.75"/>
<use href="#b" x="966.25" y="1975"/>
<use href="#b" x="972.64" y="1982.66"/>
<use href="#b" x="978.78" y="1990.33"/>
<use href="#b" x="972.5" y="1997.1"/>
<use href="#b" x="964.11" y="2001.41"/>
<use href="#b" x="960" y="2010.49"/>
<use href="#b" x="956.58" y="2019.86"/>
<use href="#b" x="953.2" y="2029.24"/>
<use href="#b" x="951.29" y="2038.94"/>
<use href="#b" x="956.25" y="2047.5"/>
<use href="#b" x="978.75" y="1991.25"/>
<use href="#b" x="989.57" y="1990.43"/>
<use href="#b" x="1000.13" y="1993.23"/>
<use href="#b" x="1011.11" y="1992.87"/>
<use href="#b" x="1022.03" y="1991.66"/>
<use href="#b" x="1032.81" y="1989.58"/>
<use href="#b" x="1043.75" y="1988.75"/>
<use href="#b" x="913.25" y="1890"/>
<use href="#b" x="913.84" y="1900.92"/>
<use href="#b" x="915.15" y="1911.78"/>
<use href="#b" x="915.89" y="1922.7"/>
<use href="#b" x="917.11" y="1933.57"/>
<use href="#b" x="918.06" y="1944.47"/>
<use href="#b" x="918.76" y="1955.38"/>
<use href="#b" x="918.67" y="1966.32"/>
<use href="#b" x="917.28" y="1977.15"/>
<use href="#b" x="913.75" y="1987.5"/>
<use href="#b" x="686.25" y="1960"/>
<use href="#b" x="694.83" y="1966.14"/>
<use href="#b" x="703.65" y="1971.94"/>
<use href="#b" x="712.87" y="1977.06"/>
<use href="#b" x="722.45" y="1981.47"/>
<use href="#b" x="732.36" y="1985.09"/>
<use href="#b" x="742.6" y="1987.59"/>
<use href="#b" x="753.08" y="1988.76"/>
<use href="#b" x="763.56" y="1987.78"/>
<use href="#b" x="773.81" y="1985.3"/>
<use href="#b" x="783.59" y="1981.37"/>
<use href="#b" x="792.53" y="1975.8"/>
<use href="#b" x="802.54" y="1972.76"/>
<use href="#b" x="813.07" y="1972.35"/>
<use href="#b" x="823.59" y="1973.11"/>
<use href="#b" x="833.82" y="1975.57"/>
<use href="#b" x="843.42" y="1979.93"/>
<use href="#b" x="853.02" y="1984.29"/>
<use href="#b" x="862.43" y="1989.03"/>
<use href="#b" x="871.61" y="1994.23"/>
<use href="#b" x="881.33" y="1998.25"/>
<use href="#b" x="891.73" y="1999.91"/>
<use href="#b" x="902.01" y="1998.03"/>
<use href="#b" x="910.17" y="1991.7"/>
<use href="#b" x="918.45" y="1988.54"/>
<use href="#b" x="928.71" y="1990.44"/>
<use href="#b" x="938.68" y="1987.4"/>
<use href="#b" x="948.3" y="1983.08"/>
<use href="#b" x="957.91" y="1978.71"/>
<use href="#b" x="966.25" y="1972.5"/>
<use href="#b" x="702.5" y="1758"/>
<use href="#b" x="713.27" y="1759.17"/>
<use href="#b" x="723.72" y="1761.99"/>
<use href="#b" x="733.02" y="1767.51"/>
<use href="#b" x="741.77" y="1773.91"/>
<use href="#b" x="749.86" y="1781.07"/>
<use href="#b" x="754.38" y="1790.87"/>
<use href="#b" x="756.21" y="1801.54"/>
<use href="#b" x="756.25" y="1812.37"/>
<use href="#b" x="756.25" y="1823.21"/>
<use href="#b" x="756.26" y="1834.05"/>
<use href="#b" x="757.03" y="1844.86"/>
<use href="#b" x="758.32" y="1855.59"/>
<use href="#b" x="763.04" y="1865.3"/>
<use href="#b" x="770.66" y="1872.82"/>
<use href="#b" x="781.25" y="1875"/>
<use href="#b" x="657.5" y="1804.25"/>
<use href="#b" x="667.03" y="1808.55"/>
<use href="#b" x="676.83" y="1812.21"/>
<use href="#b" x="686.22" y="1816.81"/>
<use href="#b" x="695.31" y="1821.99"/>
<use href="#b" x="704.23" y="1827.44"/>
<use href="#b" x="712.77" y="1833.47"/>
<use href="#b" x="721.79" y="1838.74"/>
<use href="#b" x="730.01" y="1845.18"/>
<use href="#b" x="737.53" y="1852.45"/>
<use href="#b" x="743.22" y="1861.17"/>
<use href="#b" x="746.59" y="1871.05"/>
<use href="#b" x="747.92" y="1881.41"/>
<use href="#b" x="747.89" y="1891.87"/>
<use href="#b" x="747.04" y="1902.29"/>
<use href="#b" x="745.67" y="1912.66"/>
<use href="#b" x="743.8" y="1922.95"/>
<use href="#b" x="742.07" y="1933.26"/>
<use href="#b" x="742.81" y="1943.53"/>
<use href="#b" x="749.3" y="1951.63"/>
<use href="#b" x="758.01" y="1957.42"/>
<use href="#b" x="766.94" y="1962.86"/>
<use href="#b" x="776.49" y="1967.11"/>
<use href="#b" x="786.11" y="1971.2"/>
<use href="#b" x="796.25" y="1973.75"/>
<use href="#b" x="886.25" y="1820"/>
<use href="#b" x="876.08" y="1820.57"/>
<use href="#b" x="865.79" y="1818.86"/>
<use href="#b" x="855.45" y="1817.57"/>
<use href="#b" x="845.05" y="1816.74"/>
<use href="#b" x="834.65" y="1816.03"/>
<use href="#b" x="824.25" y="1815.3"/>
<use href="#b" x="813.83" y="1815.06"/>
<use href="#b" x="803.47" y="1816.17"/>
<use href="#b" x="793.59" y="1819.3"/>
<use href="#b" x="785.55" y="1825.85"/>
<use href="#b" x="780.22" y="1834.76"/>
<use href="#b" x="777.34" y="1844.76"/>
<use href="#b" x="777.68" y="1855.15"/>
<use href="#b" x="780.33" y="1865.18"/>
<use href="#b" x="786.25" y="1873.75"/>
<use href="#b" x="781.25" y="1876.25"/>
<use href="#b" x="791.17" y="1879.48"/>
<use href="#b" x="801.6" y="1879.99"/>
<use href="#b" x="812.04" y="1880.01"/>
<use href="#b" x="822.48" y="1879.57"/>
<use href="#b" x="832.9" y="1878.81"/>
<use href="#b" x="843.33" y="1878.1"/>
<use href="#b" x="853.76" y="1877.54"/>
<use href="#b" x="864.21" y="1877.42"/>
<use href="#b" x="874.59" y="1878.5"/>
<use href="#b" x="884.91" y="1880.15"/>
<use href="#b" x="894.7" y="1883.74"/>
<use href="#b" x="903.49" y="1889.35"/>
<use href="#b" x="913.75" y="1890"/>
<use href="#b" x="791.25" y="1882.5"/>
<use href="#b" x="796.11" y="1892.25"/>
<use href="#b" x="802.41" y="1901.13"/>
<use href="#b" x="808.75" y="1909.99"/>
<use href="#b" x="814.21" y="1919.42"/>
<use href="#b" x="818.58" y="1929.38"/>
<use href="#b" x="820.04" y="1940.14"/>
<use href="#b" x="817.74" y="1950.72"/>
<use href="#b" x="811.56" y="1959.64"/>
<use href="#b" x="803.63" y="1967.1"/>
<use href="#b" x="795" y="1973.75"/>
<use href="#b" x="837.5" y="1882.5"/>
<use href="#b" x="845.8" y="1889.54"/>
<use href="#b" x="852.2" y="1898.32"/>
<use href="#b" x="858.54" y="1907.17"/>
<use href="#b" x="863.94" y="1916.62"/>
<use href="#b" x="868.81" y="1926.36"/>
<use href="#b" x="873.68" y="1936.09"/>
<use href="#b" x="877.51" y="1946.28"/>
<use href="#b" x="882.93" y="1955.72"/>
<use href="#b" x="888.71" y="1964.94"/>
<use href="#b" x="895.04" y="1973.79"/>
<use href="#b" x="902.76" y="1981.42"/>
<use href="#b" x="912.5" y="1986.25"/>
<circle cx="958" cy="1830" r="67" fill="#57545c"/>
<g clip-path="url(#sc)">
<use href="#s" x="935.2" y="1768.62"/>
<use href="#s" x="942.9" y="1767.57"/>
<use href="#s" x="952.35" y="1767.92"/>
<use href="#s" x="960.4" y="1768.62"/>
<use href="#s" x="968.1" y="1767.57"/>
<use href="#s" x="977.9" y="1768.27"/>
<use href="#s" x="922.25" y="1775.2"/>
<use href="#s" x="931.7" y="1775.55"/>
<use href="#s" x="939.75" y="1776.25"/>
<use href="#s" x="947.45" y="1775.2"/>
<use href="#s" x="955.5" y="1775.9"/>
<use href="#s" x="964.95" y="1774.85"/>
<use href="#s" x="972.65" y="1775.2"/>
<use href="#s" x="980.7" y="1775.9"/>
<use href="#s" x="990.15" y="1774.85"/>
<use href="#s" x="919.1" y="1782.12"/>
<use href="#s" x="926.8" y="1782.82"/>
<use href="#s" x="934.85" y="1783.52"/>
<use href="#s" x="944.3" y="1782.47"/>
<use href="#s" x="952" y="1782.82"/>
<use href="#s" x="960.05" y="1783.52"/>
<use href="#s" x="969.5" y="1782.47"/>
<use href="#s" x="977.55" y="1783.17"/>
<use href="#s" x="985.25" y="1782.12"/>
<use href="#s" x="994.7" y="1782.47"/>
<use href="#s" x="1002.75" y="1783.17"/>
<use href="#s" x="906.15" y="1790.45"/>
<use href="#s" x="914.2" y="1789.4"/>
<use href="#s" x="921.9" y="1790.1"/>
<use href="#s" x="931.35" y="1790.45"/>
<use href="#s" x="939.4" y="1789.4"/>
<use href="#s" x="947.1" y="1790.1"/>
<use href="#s" x="956.9" y="1790.8"/>
<use href="#s" x="964.6" y="1789.75"/>
<use href="#s" x="972.3" y="1790.1"/>
<use href="#s" x="982.1" y="1790.8"/>
<use href="#s" x="989.8" y="1789.75"/>
<use href="#s" x="997.85" y="1790.45"/>
<use href="#s" x="1007.3" y="1789.4"/>
<use href="#s" x="901.25" y="1797.72"/>
<use href="#s" x="909.3" y="1796.67"/>
<use href="#s" x="918.75" y="1797.02"/>
<use href="#s" x="926.45" y="1797.72"/>
<use href="#s" x="934.5" y="1796.67"/>
<use href="#s" x="943.95" y="1797.37"/>
<use href="#s" x="951.65" y="1797.72"/>
<use href="#s" x="959.7" y="1796.67"/>
<use href="#s" x="969.15" y="1797.37"/>
<use href="#s" x="977.2" y="1798.07"/>
<use href="#s" x="984.9" y="1797.02"/>
<use href="#s" x="994.35" y="1797.37"/>
<use href="#s" x="1002.4" y="1798.07"/>
<use href="#s" x="1010.1" y="1797.02"/>
<use href="#s" x="898.1" y="1804.65"/>
<use href="#s" x="905.8" y="1805.35"/>
<use href="#s" x="913.85" y="1804.3"/>
<use href="#s" x="923.3" y="1805"/>
<use href="#s" x="931" y="1805.35"/>
<use href="#s" x="939.05" y="1804.3"/>
<use href="#s" x="948.5" y="1805"/>
<use href="#s" x="956.55" y="1803.95"/>
<use href="#s" x="964.25" y="1804.65"/>
<use href="#s" x="973.7" y="1805"/>
<use href="#s" x="981.75" y="1803.95"/>
<use href="#s" x="989.45" y="1804.65"/>
<use href="#s" x="997.5" y="1805.35"/>
<use href="#s" x="1006.95" y="1804.3"/>
<use href="#s" x="1014.65" y="1804.65"/>
<use href="#s" x="900.9" y="1812.62"/>
<use href="#s" x="910.7" y="1811.57"/>
<use href="#s" x="918.4" y="1811.92"/>
<use href="#s" x="926.1" y="1812.62"/>
<use href="#s" x="935.9" y="1811.57"/>
<use href="#s" x="943.6" y="1812.27"/>
<use href="#s" x="951.3" y="1812.62"/>
<use href="#s" x="961.1" y="1811.57"/>
<use href="#s" x="968.8" y="1812.27"/>
<use href="#s" x="976.85" y="1811.22"/>
<use href="#s" x="986.3" y="1811.92"/>
<use href="#s" x="994" y="1812.27"/>
<use href="#s" x="1002.05" y="1811.22"/>
<use href="#s" x="1011.5" y="1811.92"/>
<use href="#s" x="1019.55" y="1812.62"/>
<use href="#s" x="897.75" y="1819.55"/>
<use href="#s" x="905.45" y="1818.5"/>
<use href="#s" x="913.5" y="1819.2"/>
<use href="#s" x="922.95" y="1819.9"/>
<use href="#s" x="930.65" y="1818.5"/>
<use href="#s" x="938.7" y="1819.2"/>
<use href="#s" x="948.15" y="1819.9"/>
<use href="#s" x="956.2" y="1818.85"/>
<use href="#s" x="963.9" y="1819.55"/>
<use href="#s" x="973.35" y="1819.9"/>
<use href="#s" x="981.4" y="1818.85"/>
<use href="#s" x="989.1" y="1819.55"/>
<use href="#s" x="998.9" y="1818.5"/>
<use href="#s" x="1006.6" y="1819.2"/>
<use href="#s" x="1014.3" y="1819.55"/>
<use href="#s" x="892.85" y="1826.82"/>
<use href="#s" x="902.3" y="1825.77"/>
<use href="#s" x="910.35" y="1826.47"/>
<use href="#s" x="918.05" y="1826.82"/>
<use href="#s" x="927.5" y="1825.77"/>
<use href="#s" x="935.55" y="1826.47"/>
<use href="#s" x="943.25" y="1827.17"/>
<use href="#s" x="952.7" y="1825.77"/>
<use href="#s" x="960.75" y="1826.47"/>
<use href="#s" x="968.45" y="1827.17"/>
<use href="#s" x="976.5" y="1826.12"/>
<use href="#s" x="985.95" y="1826.82"/>
<use href="#s" x="993.65" y="1827.17"/>
<use href="#s" x="1001.7" y="1826.12"/>
<use href="#s" x="1011.15" y="1826.82"/>
<use href="#s" x="1019.2" y="1825.77"/>
<use href="#s" x="897.4" y="1834.44"/>
<use href="#s" x="905.1" y="1833.39"/>
<use href="#s" x="914.9" y="1834.09"/>
<use href="#s" x="922.6" y="1833.04"/>
<use href="#s" x="930.3" y="1833.39"/>
<use href="#s" x="940.1" y="1834.09"/>
<use href="#s" x="947.8" y="1833.04"/>
<use href="#s" x="955.85" y="1833.74"/>
<use href="#s" x="965.3" y="1834.44"/>
<use href="#s" x="973" y="1833.04"/>
<use href="#s" x="981.05" y="1833.74"/>
<use href="#s" x="990.5" y="1834.44"/>
<use href="#s" x="998.55" y="1833.39"/>
<use href="#s" x="1006.25" y="1834.09"/>
<use href="#s" x="1015.7" y="1834.44"/>
<use href="#s" x="1023.75" y="1833.39"/>
<use href="#s" x="892.5" y="1841.72"/>
<use href="#s" x="901.95" y="1840.67"/>
<use href="#s" x="910" y="1841.37"/>
<use href="#s" x="917.7" y="1841.72"/>
<use href="#s" x="927.15" y="1840.67"/>
<use href="#s" x="935.2" y="1841.37"/>
<use href="#s" x="942.9" y="1840.32"/>
<use href="#s" x="952.35" y="1840.67"/>
<use href="#s" x="960.4" y="1841.37"/>
<use href="#s" x="968.1" y="1840.32"/>
<use href="#s" x="977.9" y="1841.02"/>
<use href="#s" x="985.6" y="1841.72"/>
<use href="#s" x="993.3" y="1840.32"/>
<use href="#s" x="1003.1" y="1841.02"/>
<use href="#s" x="1010.8" y="1841.72"/>
<use href="#s" x="1018.85" y="1840.67"/>
<use href="#s" x="897.05" y="1847.59"/>
<use href="#s" x="906.5" y="1848.29"/>
<use href="#s" x="914.55" y="1848.99"/>
<use href="#s" x="922.25" y="1847.94"/>
<use href="#s" x="931.7" y="1848.29"/>
<use href="#s" x="939.75" y="1848.99"/>
<use href="#s" x="947.45" y="1847.94"/>
<use href="#s" x="955.5" y="1848.64"/>
<use href="#s" x="964.95" y="1847.59"/>
<use href="#s" x="972.65" y="1847.94"/>
<use href="#s" x="980.7" y="1848.64"/>
<use href="#s" x="990.15" y="1847.59"/>
<use href="#s" x="998.2" y="1848.29"/>
<use href="#s" x="1005.9" y="1848.99"/>
<use href="#s" x="1015.35" y="1847.59"/>
<use href="#s" x="901.6" y="1855.57"/>
<use href="#s" x="909.65" y="1856.27"/>
<use href="#s" x="919.1" y="1854.87"/>
<use href="#s" x="926.8" y="1855.57"/>
<use href="#s" x="934.85" y="1856.27"/>
<use href="#s" x="944.3" y="1855.22"/>
<use href="#s" x="952" y="1855.57"/>
<use href="#s" x="960.05" y="1856.27"/>
<use href="#s" x="969.5" y="1855.22"/>
<use href="#s" x="977.55" y="1855.92"/>
<use href="#s" x="985.25" y="1854.87"/>
<use href="#s" x="994.7" y="1855.22"/>
<use href="#s" x="1002.75" y="1855.92"/>
<use href="#s" x="1010.45" y="1854.87"/>
<use href="#s" x="906.15" y="1863.19"/>
<use href="#s" x="914.2" y="1862.14"/>
<use href="#s" x="921.9" y="1862.84"/>
<use href="#s" x="931.35" y="1863.19"/>
<use href="#s" x="939.4" y="1862.14"/>
<use href="#s" x="947.1" y="1862.84"/>
<use href="#s" x="956.9" y="1863.54"/>
<use href="#s" x="964.6" y="1862.49"/>
<use href="#s" x="972.3" y="1862.84"/>
<use href="#s" x="982.1" y="1863.54"/>
<use href="#s" x="989.8" y="1862.49"/>
<use href="#s" x="997.85" y="1863.19"/>
<use href="#s" x="1007.3" y="1862.14"/>
<use href="#s" x="1015" y="1862.49"/>
<use href="#s" x="909.3" y="1869.42"/>
<use href="#s" x="918.75" y="1869.77"/>
<use href="#s" x="926.45" y="1870.47"/>
<use href="#s" x="934.5" y="1869.42"/>
<use href="#s" x="943.95" y="1870.12"/>
<use href="#s" x="951.65" y="1870.47"/>
<use href="#s" x="959.7" y="1869.42"/>
<use href="#s" x="969.15" y="1870.12"/>
<use href="#s" x="977.2" y="1870.82"/>
<use href="#s" x="984.9" y="1869.77"/>
<use href="#s" x="994.35" y="1870.12"/>
<use href="#s" x="1002.4" y="1870.82"/>
<use href="#s" x="913.85" y="1877.04"/>
<use href="#s" x="923.3" y="1877.74"/>
<use href="#s" x="931" y="1878.09"/>
<use href="#s" x="939.05" y="1877.04"/>
<use href="#s" x="948.5" y="1877.74"/>
<use href="#s" x="956.55" y="1876.69"/>
<use href="#s" x="964.25" y="1877.39"/>
<use href="#s" x="973.7" y="1877.74"/>
<use href="#s" x="981.75" y="1876.69"/>
<use href="#s" x="989.45" y="1877.39"/>
<use href="#s" x="997.5" y="1878.09"/>
<use href="#s" x="926.1" y="1885.36"/>
<use href="#s" x="935.9" y="1884.31"/>
<use href="#s" x="943.6" y="1885.01"/>
<use href="#s" x="951.3" y="1885.36"/>
<use href="#s" x="961.1" y="1884.31"/>
<use href="#s" x="968.8" y="1885.01"/>
<use href="#s" x="976.85" y="1883.96"/>
<use href="#s" x="986.3" y="1884.66"/>
<use href="#s" x="994" y="1885.01"/>
<use href="#s" x="938.7" y="1891.94"/>
<use href="#s" x="948.15" y="1892.64"/>
<use href="#s" x="956.2" y="1891.59"/>
<use href="#s" x="963.9" y="1892.29"/>
<use href="#s" x="973.35" y="1892.64"/>
</g>
<use href="#r" x="1024" y="1830"/>
<use href="#r" x="1023.62" y="1836.99"/>
<use href="#r" x="1022.5" y="1843.9"/>
<use href="#r" x="1020.64" y="1850.64"/>
<use href="#r" x="1018.06" y="1857.15"/>
<use href="#r" x="1014.81" y="1863.35"/>
<use href="#r" x="1010.91" y="1869.16"/>
<use href="#r" x="1006.41" y="1874.52"/>
<use href="#r" x="1001.37" y="1879.38"/>
<use href="#r" x="995.84" y="1883.67"/>
<use href="#r" x="989.89" y="1887.35"/>
<use href="#r" x="983.58" y="1890.38"/>
<use href="#r" x="976.99" y="1892.73"/>
<use href="#r" x="970.18" y="1894.37"/>
<use href="#r" x="963.25" y="1895.29"/>
<use href="#r" x="956.25" y="1895.48"/>
<use href="#r" x="949.27" y="1894.92"/>
<use href="#r" x="942.39" y="1893.64"/>
<use href="#r" x="935.68" y="1891.64"/>
<use href="#r" x="929.23" y="1888.95"/>
<use href="#r" x="923.09" y="1885.59"/>
<use href="#r" x="917.34" y="1881.59"/>
<use href="#r" x="912.05" y="1877.01"/>
<use href="#r" x="907.27" y="1871.9"/>
<use href="#r" x="903.07" y="1866.3"/>
<use href="#r" x="899.48" y="1860.29"/>
<use href="#r" x="896.56" y="1853.93"/>
<use href="#r" x="894.34" y="1847.29"/>
<use href="#r" x="892.85" y="1840.46"/>
<use href="#r" x="892.09" y="1833.5"/>
<use href="#r" x="892.09" y="1826.5"/>
<use href="#r" x="892.85" y="1819.54"/>
<use href="#r" x="894.34" y="1812.71"/>
<use href="#r" x="896.56" y="1806.07"/>
<use href="#r" x="899.48" y="1799.71"/>
<use href="#r" x="903.07" y="1793.7"/>
<use href="#r" x="907.27" y="1788.1"/>
<use href="#r" x="912.05" y="1782.99"/>
<use href="#r" x="917.34" y="1778.41"/>
<use href="#r" x="923.09" y="1774.41"/>
<use href="#r" x="929.23" y="1771.05"/>
<use href="#r" x="935.68" y="1768.36"/>
<use href="#r" x="942.39" y="1766.36"/>
<use href="#r" x="949.27" y="1765.08"/>
<use href="#r" x="956.25" y="1764.52"/>
<use href="#r" x="963.25" y="1764.71"/>
<use href="#r" x="970.18" y="1765.63"/>
<use href="#r" x="976.99" y="1767.27"/>
<use href="#r" x="983.58" y="1769.62"/>
<use href="#r" x="989.89" y="1772.65"/>
<use href="#r" x="995.84" y="1776.33"/>
<use href="#r" x="1001.37" y="1780.62"/>
<use href="#r" x="1006.41" y="1785.48"/>
<use href="#r" x="1010.91" y="1790.84"/>
<use href="#r" x="1014.81" y="1796.65"/>
<use href="#r" x="1018.06" y="1802.85"/>
<use href="#r" x="1020.64" y="1809.36"/>
<use href="#r" x="1022.5" y="1816.1"/>
<use href="#r" x="1023.62" y="1823.01"/>
<use href="#r" x="1024" y="1830"/>
<use href="#b" x="957" y="1787"/>
<use href="#b" x="964.17" y="1791.67"/>
<use href="#b" x="971.33" y="1796.33"/>
<use href="#b" x="978.5" y="1801"/>
<use href="#b" x="985.67" y="1805.67"/>
<use href="#b" x="992.83" y="1810.33"/>
<use href="#b" x="1000" y="1815"/>
<use href="#b" x="1000" y="1815"/>
<use href="#b" x="997.4" y="1824.2"/>
<use href="#b" x="994.8" y="1833.4"/>
<use href="#b" x="992.2" y="1842.6"/>
<use href="#b" x="989.6" y="1851.8"/>
<use href="#b" x="987" y="1861"/>
<use href="#b" x="987" y="1861"/>
<use href="#b" x="977.5" y="1861.5"/>
<use href="#b" x="968" y="1862"/>
<use href="#b" x="958.5" y="1862.5"/>
<use href="#b" x="949" y="1863"/>
<use href="#b" x="939.5" y="1863.5"/>
<use href="#b" x="930" y="1864"/>
<use href="#b" x="930" y="1864"/>
<use href="#b" x="927" y="1855.33"/>
<use href="#b" x="924" y="1846.67"/>
<use href="#b" x="921" y="1838"/>
<use href="#b" x="918" y="1829.33"/>
<use href="#b" x="915" y="1820.67"/>
<use href="#b" x="912" y="1812"/>
<use href="#b" x="912" y="1812"/>
<use href="#b" x="919.5" y="1807.83"/>
<use href="#b" x="927" y="1803.67"/>
<use href="#b" x="934.5" y="1799.5"/>
<use href="#b" x="942" y="1795.33"/>
<use href="#b" x="949.5" y="1791.17"/>
<use href="#b" x="957" y="1787"/>
<use href="#b" x="957" y="1787"/>
<use href="#b" x="957" y="1779"/>
<use href="#b" x="957" y="1771"/>
<use href="#b" x="957" y="1763"/>
<use href="#b" x="1000" y="1815"/>
<use href="#b" x="1008.67" y="1812"/>
<use href="#b" x="1017.33" y="1809"/>
<use href="#b" x="1026" y="1806"/>
<use href="#b" x="987" y="1861"/>
<use href="#b" x="994.5" y="1863.5"/>
<use href="#b" x="1002" y="1866"/>
<use href="#b" x="1009.5" y="1868.5"/>
<use href="#b" x="1017" y="1871"/>
<use href="#b" x="983" y="1868"/>
<use href="#b" x="988.33" y="1874.67"/>
<use href="#b" x="993.67" y="1881.33"/>
<use href="#b" x="999" y="1888"/>
<use href="#b" x="930" y="1864"/>
<use href="#b" x="924.67" y="1872"/>
<use href="#b" x="919.33" y="1880"/>
<use href="#b" x="914" y="1888"/>
<use href="#b" x="912" y="1812"/>
<use href="#b" x="902" y="1815"/>
<use href="#b" x="892" y="1818"/>
<text x="564.3" y="1628.6" font-size="33" text-anchor="start" fill="#000" font-weight="bold" >e</text>
<text x="-1.6" y="25.6" font-size="33" text-anchor="start" fill="#000" font-weight="bold" >a</text>
<text x="955.1" y="23.6" font-size="33" text-anchor="start" fill="#000" font-weight="bold" >b</text>
<text x="-1" y="815.6" font-size="33" text-anchor="start" fill="#000" font-weight="bold" >c</text>
<text x="953.1" y="815.7" font-size="33" text-anchor="start" fill="#000" font-weight="bold" >d</text>
</svg>
</body>
</html>
